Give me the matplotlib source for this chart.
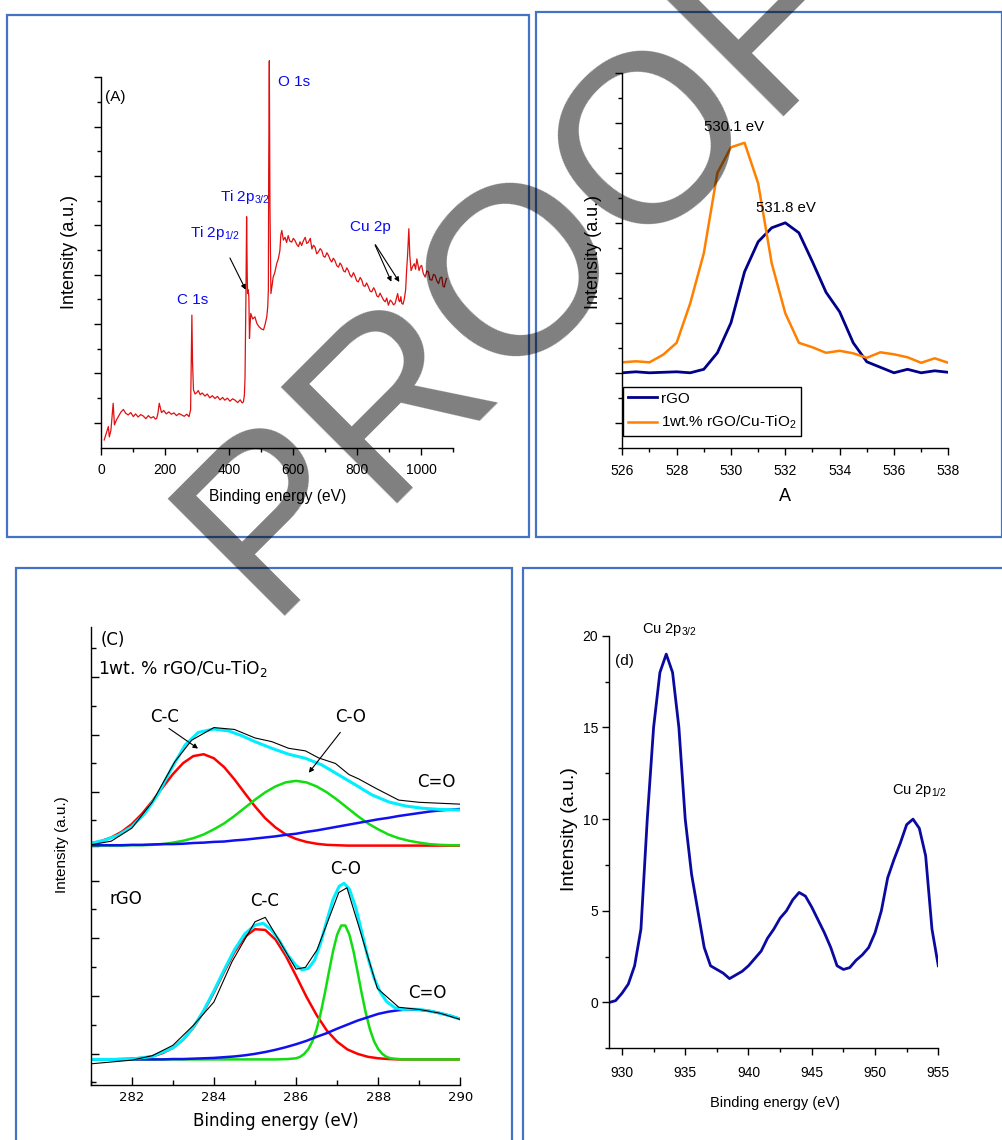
import numpy as np
import matplotlib
matplotlib.use('Agg')
import matplotlib.pyplot as plt
from matplotlib.patches import Rectangle
from matplotlib.ticker import MultipleLocator, FixedLocator

W, H = 1003, 1140
NARROW = ['Liberation Sans Narrow', 'Liberation Sans', 'DejaVu Sans']
REG = ['Liberation Sans', 'DejaVu Sans']
WIDE = ['DejaVu Sans']
plt.rcParams['font.family'] = NARROW
plt.rcParams['mathtext.default'] = 'regular'

# ---- (A) survey spectrum ----
a_ev = [10, 16, 23, 26, 31, 38, 42, 48, 54, 62,
        70, 77, 85, 93, 101, 108, 116, 124, 132, 140,
        148, 156, 164, 170, 174, 178, 182, 189, 196, 204,
        212, 220, 228, 236, 244, 252, 260, 268, 275, 280,
        282, 284, 286, 289, 294, 299, 304, 310, 316, 325,
        332, 340, 348, 356, 364, 372, 380, 387, 395, 403,
        411, 419, 427, 435, 441, 445, 448, 450, 453, 455,
        457, 458, 460, 462, 464, 466, 468, 474, 481, 487,
        494, 501, 508, 513, 518, 521, 523, 524, 526, 528,
        531, 535, 538, 543, 549, 554, 559, 562, 565, 570,
        575, 580, 585, 590, 596, 601, 606, 612, 617, 622,
        627, 632, 638, 643, 648, 654, 659, 664, 669, 674,
        679, 685, 690, 695, 700, 706, 711, 716, 721, 726,
        731, 737, 742, 747, 752, 758, 763, 768, 773, 778,
        783, 789, 794, 799, 804, 810, 815, 820, 825, 830,
        836, 841, 846, 852, 857, 862, 867, 872, 877, 883,
        888, 893, 898, 904, 909, 914, 919, 923, 927, 931,
        934, 937, 940, 944, 948, 952, 955, 958, 962, 965,
        969, 974, 979, 983, 987, 991, 994, 998, 1002, 1007,
        1013, 1018, 1023, 1028, 1034, 1039, 1044, 1050, 1055, 1060,
        1065, 1069, 1073, 1077, 1080]
a_int = [2.2, 4.0, 6.1, 3.1, 5.0, 12.9, 6.6, 8.0, 9.0, 10.3,
         11.1, 10.0, 9.5, 10.2, 9.0, 9.8, 8.9, 9.6, 9.2, 8.4,
         9.3, 8.6, 9.0, 8.3, 8.5, 10.0, 12.9, 10.2, 10.8, 9.8,
         10.4, 9.7, 10.1, 9.3, 9.9, 9.5, 9.1, 9.7, 9.0, 11.0,
         25.0, 38.6, 25.0, 16.8, 15.6, 16.0, 16.6, 15.4, 15.9, 15.0,
         15.6, 14.5, 15.1, 14.3, 14.9, 13.9, 14.6, 13.8, 14.4, 13.5,
         14.2, 13.8, 13.1, 13.9, 13.0, 13.3, 15.2, 20.0, 45.0, 67.3,
         50.0, 44.9, 46.0, 44.0, 31.8, 36.0, 39.1, 37.5, 38.1, 36.2,
         35.2, 34.6, 34.3, 36.0, 38.1, 41.0, 45.9, 80.0, 112.8, 70.0,
         44.9, 47.5, 49.7, 51.0, 53.6, 55.0, 57.4, 62.0, 63.3, 60.5,
         61.3, 59.8, 61.8, 60.2, 59.9, 61.0, 60.4, 59.2, 58.6, 60.0,
         58.9, 60.2, 61.3, 59.5, 59.9, 61.0, 57.9, 59.0, 58.4, 56.5,
         57.0, 58.0, 57.4, 55.8, 55.5, 56.8, 56.0, 54.8, 54.1, 55.2,
         54.5, 53.0, 52.6, 53.8, 53.1, 51.5, 51.2, 52.4, 51.6, 50.3,
         49.7, 51.0, 49.9, 48.6, 48.3, 49.6, 48.8, 47.2, 47.0, 48.0,
         46.8, 45.6, 45.4, 46.6, 45.7, 44.2, 43.9, 45.0, 44.1, 43.0,
         42.5, 43.6, 41.5, 43.0, 42.5, 41.6, 42.0, 43.5, 44.9, 42.8,
         42.5, 44.0, 42.0, 41.8, 43.4, 46.0, 51.6, 56.0, 63.8, 56.0,
         51.6, 52.8, 53.6, 52.0, 55.0, 53.0, 51.6, 52.8, 53.1, 50.8,
         49.7, 51.5, 51.2, 49.0, 48.8, 50.5, 50.2, 48.5, 47.8, 49.5,
         49.7, 47.0, 46.8, 48.5, 49.3]

# ---- (B) O 1s ----
b_ev = [526, 526.5, 527, 527.5, 528, 528.5, 529, 529.5, 530, 530.5, 531, 531.5, 532,
        532.5, 533, 533.5, 534, 534.5, 535, 535.5, 536, 536.5, 537, 537.5, 538]
b_rgo = [0.01, 0.03, 0.01, 0.02, 0.03, 0.01, 0.08, 0.41, 1.01, 2.03, 2.63, 2.91, 3.01,
         2.81, 2.23, 1.62, 1.23, 0.61, 0.23, 0.12, 0.01, 0.08, 0.01, 0.05, 0.02]
b_cu = [0.22, 0.24, 0.22, 0.37, 0.61, 1.40, 2.40, 4.01, 4.52, 4.61, 3.80, 2.20, 1.20,
        0.61, 0.52, 0.41, 0.45, 0.40, 0.31, 0.42, 0.38, 0.32, 0.21, 0.30, 0.21]

# ---- (C) C 1s fits ----
c_ev = np.arange(281, 290.01, 0.25)
cu_red = [6.54, 6.60, 6.70, 6.85, 7.06, 7.34, 7.68, 8.05, 8.41, 8.71, 8.90, 8.95,
          8.84, 8.60, 8.27, 7.90, 7.54, 7.22, 6.97, 6.78, 6.66, 6.58, 6.53, 6.50,
          6.49, 6.48, 6.48, 6.48, 6.48, 6.48, 6.48, 6.48, 6.48, 6.48, 6.48, 6.48, 6.48]
cu_green = [6.48, 6.48, 6.48, 6.48, 6.49, 6.49, 6.50, 6.52, 6.56, 6.61, 6.68, 6.78,
            6.92, 7.08, 7.28, 7.50, 7.72, 7.92, 8.08, 8.19, 8.23, 8.19, 8.08, 7.92,
            7.72, 7.50, 7.28, 7.08, 6.92, 6.78, 6.68, 6.61, 6.56, 6.52, 6.50, 6.49, 6.49]
cu_blue = [6.49, 6.49, 6.49, 6.49, 6.50, 6.50, 6.51, 6.52, 6.52, 6.53, 6.55, 6.56,
           6.58, 6.59, 6.62, 6.64, 6.67, 6.70, 6.73, 6.77, 6.80, 6.85, 6.89, 6.94,
           6.99, 7.04, 7.09, 7.14, 7.19, 7.23, 7.28, 7.32, 7.36, 7.40, 7.43, 7.45, 7.47]
cu_fit_ev = [281.0, 281.35, 281.67, 282.0, 282.32, 282.65, 282.97, 283.3, 283.62, 283.99,
             284.36, 284.68, 285.0, 285.41, 285.82, 286.23, 286.63, 287.04, 287.45, 287.85,
             288.26, 288.67, 289.07, 289.48, 290.0]
cu_fit = [6.54, 6.63, 6.76, 6.99, 7.35, 7.89, 8.57, 9.20, 9.54, 9.63,
          9.58, 9.45, 9.29, 9.11, 8.95, 8.84, 8.66, 8.39, 8.12, 7.85,
          7.66, 7.55, 7.49, 7.46, 7.44]
cu_raw_ev = [281.0, 281.5, 282.0, 282.5, 283.05, 283.46, 284.0, 284.5, 285.0, 285.41,
             285.82, 286.23, 286.55, 286.96, 287.29, 287.53, 287.94, 288.5, 289.0, 290.0]
cu_raw = [6.50, 6.60, 6.95, 7.66, 8.75, 9.33, 9.67, 9.62, 9.39, 9.29,
          9.11, 9.04, 8.85, 8.70, 8.40, 8.28, 8.03, 7.71, 7.65, 7.60]

cl_red = [0.70, 0.70, 0.70, 0.71, 0.72, 0.74, 0.78, 0.87, 1.01, 1.23, 1.56, 1.99,
          2.51, 3.07, 3.60, 4.01, 4.22, 4.20, 3.94, 3.50, 2.96, 2.40, 1.90, 1.48,
          1.18, 0.97, 0.85, 0.77, 0.73, 0.71, 0.70, 0.70, 0.70, 0.70, 0.70, 0.70, 0.70]
cl_blue = [0.70, 0.70, 0.70, 0.70, 0.70, 0.70, 0.70, 0.70, 0.71, 0.71, 0.72, 0.73,
           0.74, 0.76, 0.78, 0.81, 0.85, 0.90, 0.96, 1.03, 1.11, 1.20, 1.31, 1.41,
           1.53, 1.64, 1.75, 1.84, 1.93, 1.99, 2.03, 2.05, 2.04, 2.01, 1.95, 1.88, 1.79]
cl_green_ev = [281.0, 285.5, 285.8, 286.0, 286.1, 286.2, 286.3, 286.4, 286.5, 286.6,
               286.7, 286.8, 286.9, 287.0, 287.1, 287.2, 287.3, 287.4, 287.5, 287.6,
               287.7, 287.8, 287.9, 288.0, 288.1, 288.2, 288.3, 288.6, 290.0]
cl_green = [0.70, 0.70, 0.71, 0.73, 0.77, 0.85, 0.98, 1.19, 1.51, 1.95,
            2.48, 3.06, 3.62, 4.07, 4.32, 4.32, 4.07, 3.62, 3.06, 2.48,
            1.95, 1.51, 1.19, 0.98, 0.85, 0.77, 0.73, 0.70, 0.70]
cl_fit_ev = [281.0, 281.5, 282.0, 282.5, 283.0, 283.25, 283.5, 283.75, 284.0, 284.25,
             284.5, 284.75, 285.0, 285.2, 285.4, 285.6, 285.8, 286.0, 286.15, 286.3,
             286.45, 286.6, 286.75, 286.9, 287.05, 287.17, 287.3, 287.45, 287.6, 287.75,
             287.9, 288.05, 288.2, 288.4, 288.6, 288.8, 289.0, 289.25, 289.5, 289.75, 290.0]
cl_fit = [0.70, 0.70, 0.71, 0.78, 1.01, 1.24, 1.57, 2.02, 2.55, 3.12,
          3.66, 4.09, 4.33, 4.38, 4.20, 3.90, 3.52, 3.24, 3.12, 3.16,
          3.38, 3.85, 4.45, 5.02, 5.38, 5.46, 5.30, 4.82, 4.15, 3.45,
          2.90, 2.52, 2.27, 2.10, 2.05, 2.06, 2.05, 2.01, 1.95, 1.88, 1.79]
cl_raw_ev = [281.0, 281.5, 282.0, 282.5, 283.0, 283.5, 284.0, 284.44, 285.0, 285.25,
             285.58, 286.0, 286.23, 286.51, 287.04, 287.24, 287.53, 287.98, 288.5, 289.0,
             289.5, 290.0]
cl_raw = [0.58, 0.63, 0.68, 0.80, 1.08, 1.62, 2.25, 3.34, 4.42, 4.54,
          3.93, 3.14, 3.19, 3.66, 5.21, 5.34, 4.29, 2.62, 2.11, 2.05,
          1.95, 1.78]

# ---- (d) Cu 2p ----
d_ev = [929, 929.5, 930, 930.5, 931, 931.5, 932, 932.5, 933, 933.5, 934, 934.5, 935,
        935.5, 936, 936.5, 937, 937.5, 938, 938.5, 939, 939.5, 940, 940.5, 941, 941.5,
        942, 942.5, 943, 943.5, 944, 944.5, 945, 945.5, 946, 946.5, 947, 947.5, 948,
        948.5, 949, 949.5, 950, 950.5, 951, 951.5, 952, 952.5, 953, 953.5, 954, 954.5, 955]
d_int = [0.0, 0.1, 0.5, 1.0, 2.0, 4.0, 10.0, 15.0, 18.0, 19.0, 18.0, 15.0, 10.0,
         7.0, 5.0, 3.0, 2.0, 1.8, 1.6, 1.3, 1.5, 1.7, 2.0, 2.4, 2.8, 3.5,
         4.0, 4.6, 5.0, 5.6, 6.0, 5.8, 5.2, 4.5, 3.8, 3.0, 2.0, 1.8, 1.9,
         2.3, 2.6, 3.0, 3.8, 5.0, 6.8, 7.8, 8.7, 9.7, 10.0, 9.5, 8.0, 4.0, 2.0]


def box(l, t, r, b):
    return [l / W, 1 - b / H, (r - l) / W, (b - t) / H]


def fpx(x, y):
    return x / W, 1 - y / H


def style(ax, fam, size, direction, pad):
    for s in ['top', 'right']:
        ax.spines[s].set_visible(False)
    for s in ['left', 'bottom']:
        ax.spines[s].set_linewidth(1.0)
    ax.tick_params(which='both', direction=direction, width=1.0)
    ax.tick_params(which='major', length=5)
    ax.tick_params(which='minor', length=3)
    ax.tick_params(axis='x', pad=pad, labelsize=size, labelfontfamily=fam)
    ax.tick_params(axis='y', labelsize=size, labelfontfamily=fam)


fig = plt.figure(figsize=(W / 100, H / 100), dpi=100)

for l, t, r, b in [(7, 15, 529, 536.5), (535.5, 12, 1002, 536.5),
                   (16, 568, 512, 1150), (523, 568, 1010, 1150)]:
    fig.add_artist(Rectangle((l / W, 1 - b / H), (r - l) / W, (b - t) / H,
                             transform=fig.transFigure, fill=False,
                             ec='#4472C4', lw=1.6))

# (A)
axA = fig.add_axes(box(101, 77.2, 453, 447.5))
axA.plot(a_ev, a_int, color='#e01010', lw=0.9, clip_on=False)
axA.set_xlim(0, 1100)
axA.set_ylim(0, 108)
axA.xaxis.set_major_locator(MultipleLocator(200))
axA.xaxis.set_minor_locator(MultipleLocator(100))
axA.yaxis.set_major_locator(FixedLocator(np.arange(7.2, 109, 14.4)))
axA.yaxis.set_minor_locator(FixedLocator(np.arange(14.4, 108, 14.4)))
style(axA, NARROW, 10, 'out', 6)
axA.tick_params(axis='y', labelleft=False)
blue = '#0a0af0'
axA.text(12, 102.3, '(A)', fontsize=11, va='center')
axA.text(552, 106.5, 'O 1s', fontsize=11, color=blue, va='center')
axA.text(372, 73.1, 'Ti 2p$_{3/2}$', fontsize=11, color=blue, va='center')
axA.text(277, 62.6, 'Ti 2p$_{1/2}$', fontsize=11, color=blue, va='center')
axA.text(237, 43.0, 'C 1s', fontsize=11, color=blue, va='center')
axA.text(778, 64.3, 'Cu 2p', fontsize=11, color=blue, va='center')
arr = dict(arrowstyle='-|>', color='black', lw=0.8, mutation_scale=7)
axA.annotate('', xy=(456, 45.3), xytext=(399, 56.0), arrowprops=arr)
axA.annotate('', xy=(911, 47.6), xytext=(853, 59.8), arrowprops=arr)
axA.annotate('', xy=(937, 47.6), xytext=(853, 59.8), arrowprops=arr)
fig.text(*fpx(277.7, 496), 'Binding energy (eV)', ha='center', va='center', fontsize=11.2)
fig.text(*fpx(70, 252), 'Intensity (a.u.)', ha='center', va='center', rotation=90,
         fontsize=13, family=REG)

# (B)
axB = fig.add_axes(box(622.3, 73.3, 948.3, 448.3))
axB.plot(b_ev, b_rgo, color='#00008B', lw=2, label='rGO')
axB.plot(b_ev, b_cu, color='#FF8000', lw=1.8, label='1wt.% rGO/Cu-TiO$_2$')
axB.set_xlim(526, 538)
axB.set_ylim(-1.5, 6)
axB.xaxis.set_major_locator(MultipleLocator(2))
axB.xaxis.set_minor_locator(MultipleLocator(1))
axB.yaxis.set_major_locator(MultipleLocator(1))
axB.yaxis.set_minor_locator(MultipleLocator(0.5))
style(axB, NARROW, 10, 'out', 6)
axB.tick_params(axis='y', labelleft=False)
axB.text(530.13, 4.93, '530.1 eV', fontsize=10.8, ha='center', va='center')
axB.text(532.04, 3.31, '531.8 eV', fontsize=10.8, ha='center', va='center')
leg = axB.legend(loc='upper left', bbox_to_anchor=(0.003, 0.1635), borderaxespad=0,
                 fancybox=False, framealpha=1, edgecolor='black', fontsize=11,
                 handlelength=1.9, handletextpad=0.3, borderpad=0.3, labelspacing=0.55)
leg.get_frame().set_linewidth(1.0)
fig.text(*fpx(785, 496.5), 'A', ha='center', va='center', fontsize=13)
fig.text(*fpx(594, 252), 'Intensity (a.u.)', ha='center', va='center', rotation=90,
         fontsize=13, family=REG)

# (C)
axC = fig.add_axes(box(90.7, 626.6, 460.3, 1085.3))
axC.plot(c_ev, cu_red, color='#ff0000', lw=1.8)
axC.plot(c_ev, cu_green, color='#11dd11', lw=1.8)
axC.plot(c_ev, cu_blue, color='#1010f0', lw=1.8)
axC.plot(cu_fit_ev, cu_fit, color='#00eeff', lw=2.2)
axC.plot(cu_raw_ev, cu_raw, color='black', lw=0.8)
axC.plot(c_ev, cl_red, color='#ff0000', lw=1.8)
axC.plot(cl_green_ev, cl_green, color='#11dd11', lw=1.8)
axC.plot(c_ev, cl_blue, color='#1010f0', lw=1.8)
axC.plot(cl_fit_ev, cl_fit, color='#00eeff', lw=2.2)
axC.plot(cl_raw_ev, cl_raw, color='black', lw=0.8)
axC.set_xlim(281, 290)
axC.set_ylim(0, 12.4)
axC.xaxis.set_major_locator(MultipleLocator(2))
axC.xaxis.set_minor_locator(MultipleLocator(1))
axC.yaxis.set_major_locator(FixedLocator([0.85, 2.42, 3.97, 5.53, 6.47, 7.93, 9.47, 11.03]))
axC.yaxis.set_minor_locator(FixedLocator([0.08, 1.63, 3.2, 4.76, 7.16, 8.71, 10.25, 11.82]))
style(axC, WIDE, 9.5, 'in', 4)
axC.tick_params(axis='y', labelleft=False)
axC.tick_params(which='major', length=6)
axC.tick_params(which='minor', length=3.5)
ck = dict(fontsize=12, family=WIDE, ha='center', va='center')
axC.text(281.25, 12.04, '(C)', fontsize=12, family=WIDE, va='center')
axC.text(281.17, 11.27, '1wt. % rGO/Cu-TiO$_2$', fontsize=12.3, family=WIDE, va='center')
axC.text(282.80, 9.96, 'C-C', **ck)
axC.text(287.32, 9.96, 'C-O', **ck)
axC.text(289.42, 8.21, 'C=O', **ck)
axC.text(281.86, 5.03, 'rGO', **ck)
axC.text(285.23, 4.98, 'C-C', **ck)
axC.text(287.20, 5.84, 'C-O', **ck)
axC.text(289.20, 2.50, 'C=O', **ck)
axC.annotate('', xy=(283.67, 9.06), xytext=(282.85, 9.69), arrowprops=arr)
axC.annotate('', xy=(286.27, 8.39), xytext=(287.12, 9.60), arrowprops=arr)
fig.text(*fpx(275.8, 1121), 'Binding energy (eV)', ha='center', va='center',
         fontsize=12, family=WIDE)
fig.text(*fpx(61.7, 845), 'Intensity (a.u.)', ha='center', va='center', rotation=90,
         fontsize=11, family=REG)

# (d)
axD = fig.add_axes(box(609.3, 635.8, 938.3, 1048.3))
axD.plot(d_ev, d_int, color='#0a0aa0', lw=2)
axD.set_xlim(929, 955)
axD.set_ylim(-2.5, 20)
axD.xaxis.set_major_locator(MultipleLocator(5))
axD.xaxis.set_minor_locator(MultipleLocator(2.5))
axD.yaxis.set_major_locator(MultipleLocator(5))
axD.yaxis.set_minor_locator(MultipleLocator(2.5))
style(axD, NARROW, 10, 'out', 8)
axD.tick_params(axis='y', pad=3)
axD.text(931.61, 20.37, 'Cu 2p$_{3/2}$', fontsize=10.5, va='center', clip_on=False)
axD.text(929.42, 18.64, '(d)', fontsize=11, va='center')
axD.text(951.31, 11.55, 'Cu 2p$_{1/2}$', fontsize=10.5, va='center')
fig.text(*fpx(774.5, 1103), 'Binding energy (eV)', ha='center', va='center', fontsize=10.5)
fig.text(*fpx(569.3, 828.7), 'Intensity (a.u.)', ha='center', va='center', rotation=90,
         fontsize=14, family=REG)

# watermark
fig.text(*fpx(265, 616), 'PROOF', rotation=45, rotation_mode='anchor', ha='left',
         va='baseline', fontsize=172.8, family=REG, color='black', alpha=0.5, zorder=100)

fig.savefig('out.png', dpi=100)
